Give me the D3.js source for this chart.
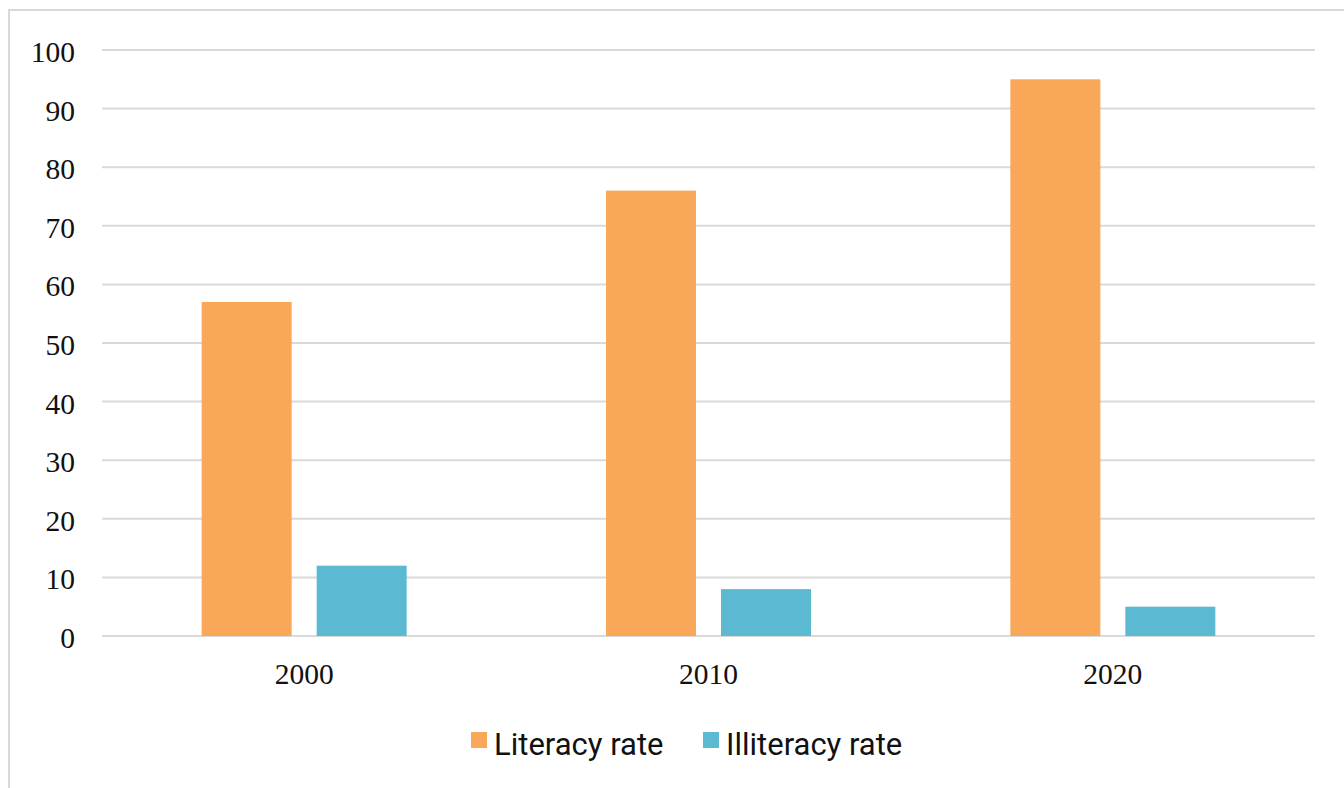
<!DOCTYPE html>
<html><head><meta charset="utf-8">
<script src="https://cdn.jsdelivr.net/npm/d3@7"></script>
<style>
html,body{margin:0;padding:0;background:#fff;}
svg{display:block;}
</style></head>
<body>
<svg id="chart" width="1344" height="788"></svg>
<script>
const categories = ["2000", "2010", "2020"];
const seriesNames = ["Literacy rate", "Illiteracy rate"];
const literacy = [57, 76, 95];
const illiteracy = [12, 8, 5];
const yTicks = [0, 10, 20, 30, 40, 50, 60, 70, 80, 90, 100];
const colors = ["#F9A859", "#5BB9D1"];

(function () {
const svg = d3.select("#chart");
const W = 1344, H = 788;

svg.append("rect").attr("x", 9).attr("y", 10).attr("width", W + 10).attr("height", H + 10)
  .attr("fill", "#fff").attr("stroke", "#d9d9d9").attr("stroke-width", 2);

const pLeft = 102, pRight = 1315, pTop = 50, pBottom = 636;
const x = d3.scaleBand().domain(categories).range([pLeft, pRight]);
const y = d3.scaleLinear().domain([0, 100]).range([pBottom, pTop]);

svg.append("g").selectAll("line").data(yTicks).join("line")
  .attr("x1", pLeft).attr("x2", pRight)
  .attr("y1", d => y(d)).attr("y2", d => y(d))
  .attr("stroke", "#d9d9d9").attr("stroke-width", 2);

svg.append("g").selectAll("text").data(yTicks).join("text")
  .attr("x", 75).attr("y", d => y(d) + 12)
  .attr("text-anchor", "end")
  .attr("font-family", "Liberation Serif").attr("font-size", 29.5).attr("fill", "#111")
  .text(d => d);

svg.append("g").selectAll("text").data(categories).join("text")
  .attr("x", d => x(d) + x.bandwidth() / 2).attr("y", 684)
  .attr("text-anchor", "middle")
  .attr("font-family", "Liberation Serif").attr("font-size", 29.5).attr("fill", "#111")
  .text(d => d);

const barW = 90, gap = 25;
const series = [literacy, illiteracy];
series.forEach((vals, si) => {
  svg.append("g").selectAll("rect").data(categories).join("rect")
    .attr("x", d => x(d) + x.bandwidth() / 2 - (barW * 2 + gap) / 2 + si * (barW + gap))
    .attr("width", barW)
    .attr("y", (d, i) => y(vals[i]))
    .attr("height", (d, i) => y(0) - y(vals[i]))
    .attr("fill", colors[si]);
});

const legend = [
  {name: seriesNames[0], color: colors[0], x: 471},
  {name: seriesNames[1], color: colors[1], x: 703}
];
const lg = svg.append("g");
legend.forEach(l => {
  lg.append("rect").attr("x", l.x).attr("y", 732).attr("width", 16).attr("height", 16).attr("fill", l.color);
  lg.append("text").attr("x", l.x + 23).attr("y", 755)
    .attr("font-family", "Roboto").attr("font-size", 31).attr("fill", "#111")
    .text(l.name);
});
})();
</script>
</body></html>
